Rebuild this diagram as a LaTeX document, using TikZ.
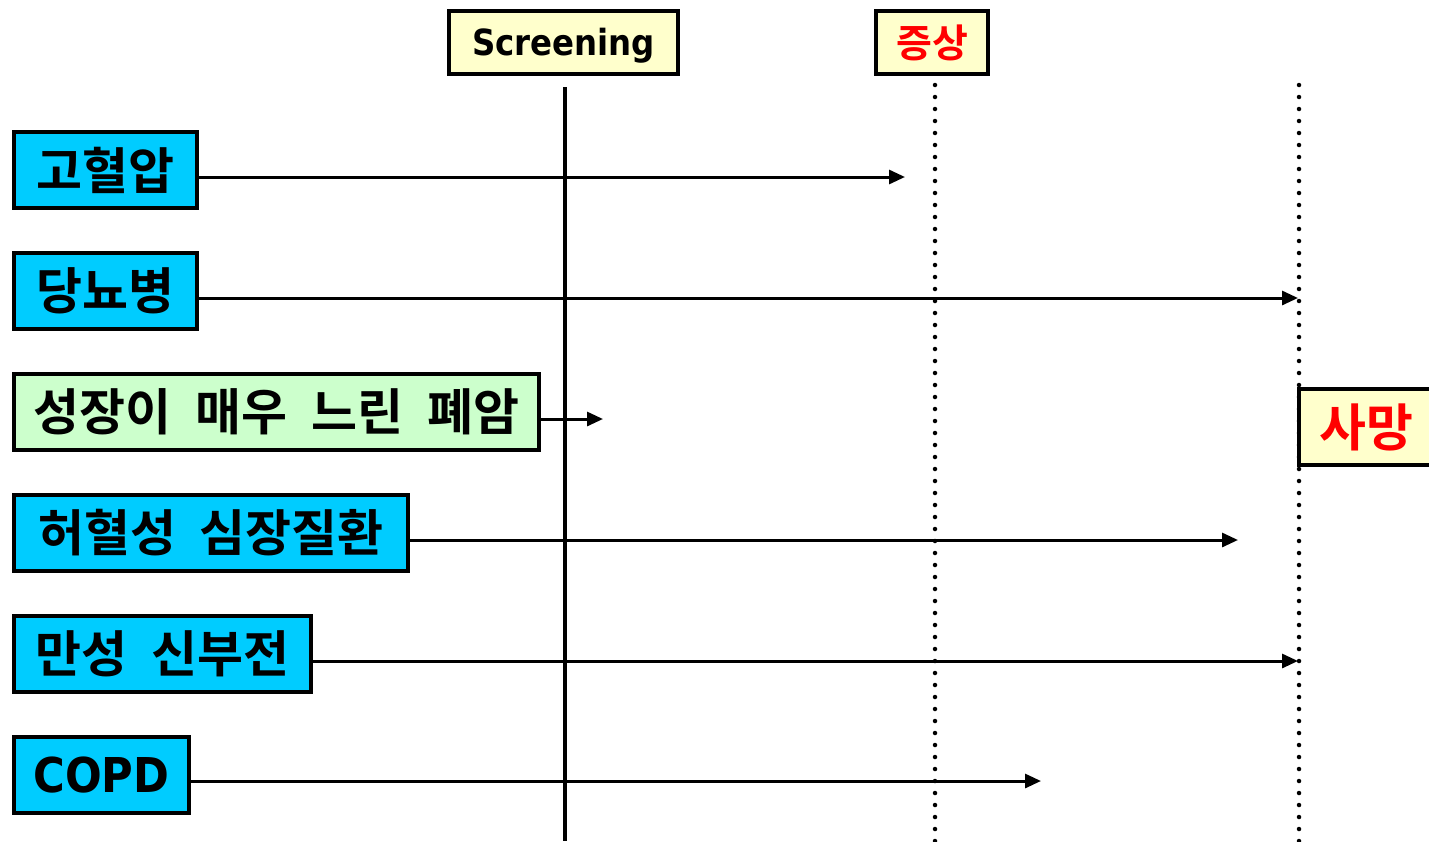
\documentclass[tikz,border=0pt]{standalone}
\usepackage{fontspec}
\setmainfont{DejaVu Sans}
\newfontfamily\kr{Noto Sans CJK KR}[UprightFont=* Bold, WordSpace=2.1]
\newfontfamily\lat{DejaVu Sans Condensed Bold}
\usetikzlibrary{arrows.meta}
\definecolor{cyanbox}{HTML}{00CCFF}
\definecolor{greenbox}{HTML}{CCFFCC}
\definecolor{yellowbox}{HTML}{FFFFCC}
\definecolor{redtext}{HTML}{FF0000}
\begin{document}
\begin{tikzpicture}[x=1pt,y=-1pt,
  box/.style={draw=black, line width=4pt, inner sep=0pt, outer sep=0pt, anchor=north west, minimum height=76pt},
  dis/.style={box, fill=cyanbox, font=\kr\fontsize{50}{54}\selectfont},
  slow/.style={box, fill=greenbox, font=\kr\fontsize{50}{54}\selectfont},
  stage/.style={box, fill=yellowbox, minimum height=63pt},
  conn/.style={line width=3pt, -{Triangle[length=16pt,width=14pt]}},
  dotline/.style={line width=4.5pt, line cap=round, dash pattern=on 0pt off 12pt},
  solidline/.style={line width=4pt}
]
\useasboundingbox (0,0) rectangle (1429,841);
% vertical lines
\coordinate (s1) at (565,87);
\coordinate (s2) at (565,841);
\coordinate (d1) at (935,85);
\coordinate (d2) at (935,841);
\coordinate (m1) at (1299,85);
\coordinate (m2) at (1299,841);
\draw[solidline] (s1) -- (s2);
\draw[dotline] (d1) -- (d2);
\draw[dotline] (m1) -- (m2);
% stage boxes
\node[stage, minimum width=229pt, font=\lat\fontsize{36}{40}\selectfont, text depth=2pt] (scr) at (449,11) {Screening};
\node[stage, minimum width=112pt, text=redtext, font=\kr\fontsize{39}{42}\selectfont] (sym) at (876,11) {증상};
\node[box, fill=yellowbox, minimum width=134pt, text=redtext, font=\kr\fontsize{51}{54}\selectfont] (death) at (1299,389) {사망};
% disease boxes
\node[dis, minimum width=183pt] (a) at (14,132) {고혈압};
\node[dis, minimum width=183pt] (b) at (14,253) {당뇨병};
\node[slow, minimum width=525pt] (c) at (14,374) {성장이 매우 느린 폐암};
\node[dis, minimum width=394pt] (d) at (14,495) {허혈성 심장질환};
\node[dis, minimum width=297pt] (e) at (14,616) {만성 신부전};
\node[dis, minimum width=175pt, font=\lat\fontsize{48}{52}\selectfont] (f) at (14,737) {COPD};
% arrow ends
\coordinate (t1) at (905,177);
\coordinate (t2) at (1298,298);
\coordinate (t3) at (603,419);
\coordinate (t4) at (1238,540);
\coordinate (t5) at (1298,661);
\coordinate (t6) at (1041,781);
\draw[conn] (a.east |- t1) -- (t1);
\draw[conn] (b.east |- t2) -- (t2);
\draw[conn] (c.east |- t3) -- (t3);
\draw[conn] (d.east |- t4) -- (t4);
\draw[conn] (e.east |- t5) -- (t5);
\draw[conn] (f.east |- t6) -- (t6);
\end{tikzpicture}
\end{document}
